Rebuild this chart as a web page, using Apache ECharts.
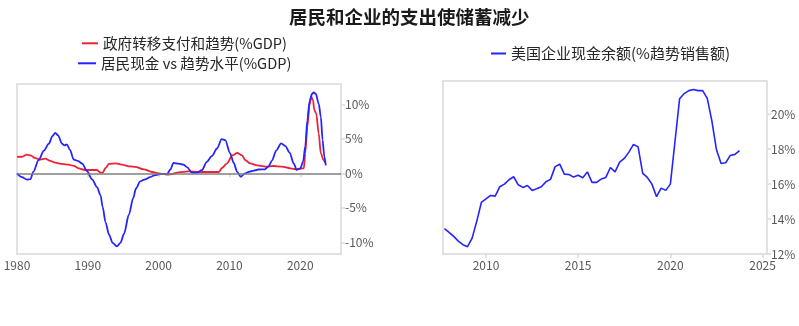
<!DOCTYPE html>
<html>
<head>
<meta charset="utf-8">
<script src="https://cdn.jsdelivr.net/npm/echarts@6/dist/echarts.min.js"></script>
<style>html,body{margin:0;padding:0;background:#fff}#c{width:799px;height:326px}</style>
</head>
<body>
<div id="c"></div>
<script>
// ---- Data ----
const chartTitle = '居民和企业的支出使储蓄减少';
const nameTransfer = '政府转移支付和趋势(%GDP)';
const nameHousehold = '居民现金 vs 趋势水平(%GDP)';
const nameCorp = '美国企业现金余额(%趋势销售额)';

const transferYears = [1980.0,1980.7,1981.4,1981.9,1982.6,1983.3,1984.0,1984.7,1985.4,1986.35,1987.3,1988.0,1988.7,1989.6,1990.6,1991.3,1991.8,1992.1,1992.5,1993.0,1993.9,1994.8,1996.0,1996.7,1997.9,1999.1,2000.0,2001.2,2001.9,2002.8,2004.25,2005.65,2007.1,2008.5,2008.95,2009.65,2010.4,2011.1,2011.8,2012.2,2012.9,2013.9,2015.06,2016.2,2017.4,2018.6,2019.5,2020.2,2020.5,2020.7,2021.0,2021.3,2021.55,2021.8,2021.97,2022.25,2022.6,2022.9,2023.3,2023.5];
const transferValues = [2.37,2.4,2.7,2.6,2.2,2.0,2.13,1.8,1.55,1.36,1.26,1.07,0.73,0.48,0.48,0.48,0.1,0.1,0.77,1.36,1.45,1.26,1.0,0.92,0.58,0.19,0.0,-0.19,-0.1,0.15,0.29,0.19,0.19,0.19,0.77,1.45,2.6,2.95,2.6,1.93,1.45,1.16,0.97,1.06,0.97,0.72,0.58,0.68,0.72,2.9,6.76,9.9,11.1,10.6,9.2,8.7,5.8,2.9,1.93,1.55];

const householdYears = [1980.0,1980.7,1981.4,1981.9,1982.3,1983.05,1983.8,1984.5,1985.0,1985.4,1985.8,1986.35,1986.7,1987.05,1987.5,1988.0,1988.6,1989.2,1989.9,1990.6,1991.3,1991.8,1992.1,1992.5,1993.0,1993.5,1994.1,1994.6,1995.1,1995.8,1996.4,1996.8,1997.4,1998.1,1998.8,1999.5,2000.2,2001.2,2001.65,2002.1,2002.8,2003.5,2004.0,2004.7,2005.4,2006.1,2006.8,2007.5,2008.25,2008.9,2009.4,2010.1,2010.6,2011.1,2011.6,2012.2,2012.85,2013.4,2014.1,2015.0,2015.5,2016.0,2016.6,2017.3,2017.9,2018.5,2019.06,2019.5,2020.0,2020.4,2020.7,2021.0,2021.3,2021.65,2021.9,2022.2,2022.6,2022.9,2023.15,2023.4,2023.6];
const householdValues = [0.0,-0.55,-0.92,-0.85,0.2,1.9,3.3,4.3,5.4,5.85,5.5,4.3,4.05,4.2,3.35,2.0,1.8,1.4,0.3,-0.87,-2.0,-3.2,-4.9,-7.1,-8.9,-10.1,-10.6,-10.1,-8.8,-6.0,-3.6,-2.2,-1.16,-0.87,-0.55,-0.25,-0.1,-0.1,0.55,1.5,1.4,1.25,0.9,0.1,0.1,0.45,1.65,2.5,3.6,4.95,4.8,2.9,1.5,0.2,-0.5,0.0,0.25,0.4,0.55,0.58,0.97,1.84,3.3,4.35,3.95,3.0,1.45,0.5,0.72,1.7,3.9,7.7,10.4,11.5,11.75,11.5,10.1,8.2,4.8,2.4,1.15];

// quarterly, 2007Q4 .. 2023Q4
const corpStartYear = 2007.75;
const corpValues = [13.45,13.24,13.01,12.74,12.53,12.42,12.91,13.87,14.95,15.16,15.35,15.31,15.85,16.0,16.25,16.42,15.96,15.81,15.92,15.64,15.73,15.85,16.13,16.27,17.0,17.14,16.57,16.55,16.4,16.51,16.36,16.7,16.1,16.1,16.29,16.38,16.95,16.7,17.26,17.47,17.83,18.27,18.13,16.61,16.38,16.0,15.28,15.77,15.64,16.0,18.44,20.88,21.18,21.35,21.41,21.35,21.35,20.91,19.62,17.96,17.18,17.22,17.64,17.7,17.92];
const corpYears = corpValues.map((_, i) => corpStartYear + i * 0.25);

const leftXTicks = [1980, 1990, 2000, 2010, 2020];
const leftYTicks = [-10, -5, 0, 5, 10];
const rightXTicks = [2010, 2015, 2020, 2025];
const rightYTicks = [12, 14, 16, 18, 20];

// ---- Chart ----
const zip = (xs, ys) => xs.map((x, i) => [x, ys[i]]);
const FONT = 'Noto Sans CJK SC';
const RED = '#ee2233';
const BLUE = '#2424ff';
const BORDER = '#d9d9d9';
const LABEL = '#595959';

function xAxisCfg(gi, min, max, ticks) {
  return {
    type: 'value', gridIndex: gi, min: min, max: max,
    axisLine: { show: false }, splitLine: { show: false },
    axisTick: { show: true, length: 4, lineStyle: { color: BORDER, width: 1.5 }, customValues: ticks },
    axisLabel: { color: LABEL, fontSize: 12, fontFamily: FONT, margin: 5, customValues: ticks, formatter: v => String(v) }
  };
}
function yAxisCfg(gi, min, max, ticks) {
  return {
    type: 'value', gridIndex: gi, position: 'right', min: min, max: max,
    axisLine: { show: false }, splitLine: { show: false },
    axisTick: { show: true, length: 4, lineStyle: { color: BORDER, width: 1.5 }, customValues: ticks },
    axisLabel: { color: LABEL, fontSize: 12, fontFamily: FONT, margin: 4, customValues: ticks, formatter: v => v + '%' }
  };
}
function legendCfg(name, left, top, w, fs) {
  return {
    data: [name], left: left, top: top, icon: 'rect', itemWidth: w, itemHeight: 2, itemGap: 0,
    textStyle: { color: '#262626', fontSize: fs, fontFamily: FONT }, selectedMode: false
  };
}

const chart = echarts.init(document.getElementById('c'), null, { renderer: 'canvas' });
chart.setOption({
  animation: false,
  backgroundColor: '#fff',
  title: {
    text: chartTitle, left: 284, top: 3,
    textStyle: { fontSize: 18.5, fontWeight: 'bold', color: '#1a1a1a', fontFamily: FONT }
  },
  legend: [
    legendCfg(nameTransfer, 77, 31, 16, 14.6),
    legendCfg(nameHousehold, 73, 51, 18, 14.6),
    legendCfg(nameCorp, 486, 41, 15, 15)
  ],
  grid: [
    { left: 17, right: 458, top: 84, bottom: 72, show: true, borderColor: BORDER, borderWidth: 1.5 },
    { left: 443, right: 32, top: 81, bottom: 72, show: true, borderColor: BORDER, borderWidth: 1.5 }
  ],
  xAxis: [
    xAxisCfg(0, 1980, 2025.75, leftXTicks),
    xAxisCfg(1, 2007.67, 2025.24, rightXTicks)
  ],
  yAxis: [
    yAxisCfg(0, -11.7, 12.95, leftYTicks),
    yAxisCfg(1, 12, 21.9, rightYTicks)
  ],
  series: [
    {
      name: 'zero', type: 'line', xAxisIndex: 0, yAxisIndex: 0, data: [], silent: true,
      markLine: { silent: true, symbol: 'none', label: { show: false },
        lineStyle: { color: '#7f7f7f', width: 1.5, type: 'solid' }, data: [{ yAxis: 0 }] }
    },
    {
      name: nameTransfer, type: 'line', xAxisIndex: 0, yAxisIndex: 0,
      data: zip(transferYears, transferValues), showSymbol: false, smooth: 0.3, smoothMonotone: 'x',
      lineStyle: { color: RED, width: 1.8 }, itemStyle: { color: RED }
    },
    {
      name: nameHousehold, type: 'line', xAxisIndex: 0, yAxisIndex: 0,
      data: zip(householdYears, householdValues), showSymbol: false, smooth: 0.3, smoothMonotone: 'x',
      lineStyle: { color: BLUE, width: 1.8 }, itemStyle: { color: BLUE }
    },
    {
      name: nameCorp, type: 'line', xAxisIndex: 1, yAxisIndex: 1,
      data: zip(corpYears, corpValues), showSymbol: false,
      lineStyle: { color: BLUE, width: 1.6 }, itemStyle: { color: BLUE }
    }
  ]
});
</script>
</body>
</html>
